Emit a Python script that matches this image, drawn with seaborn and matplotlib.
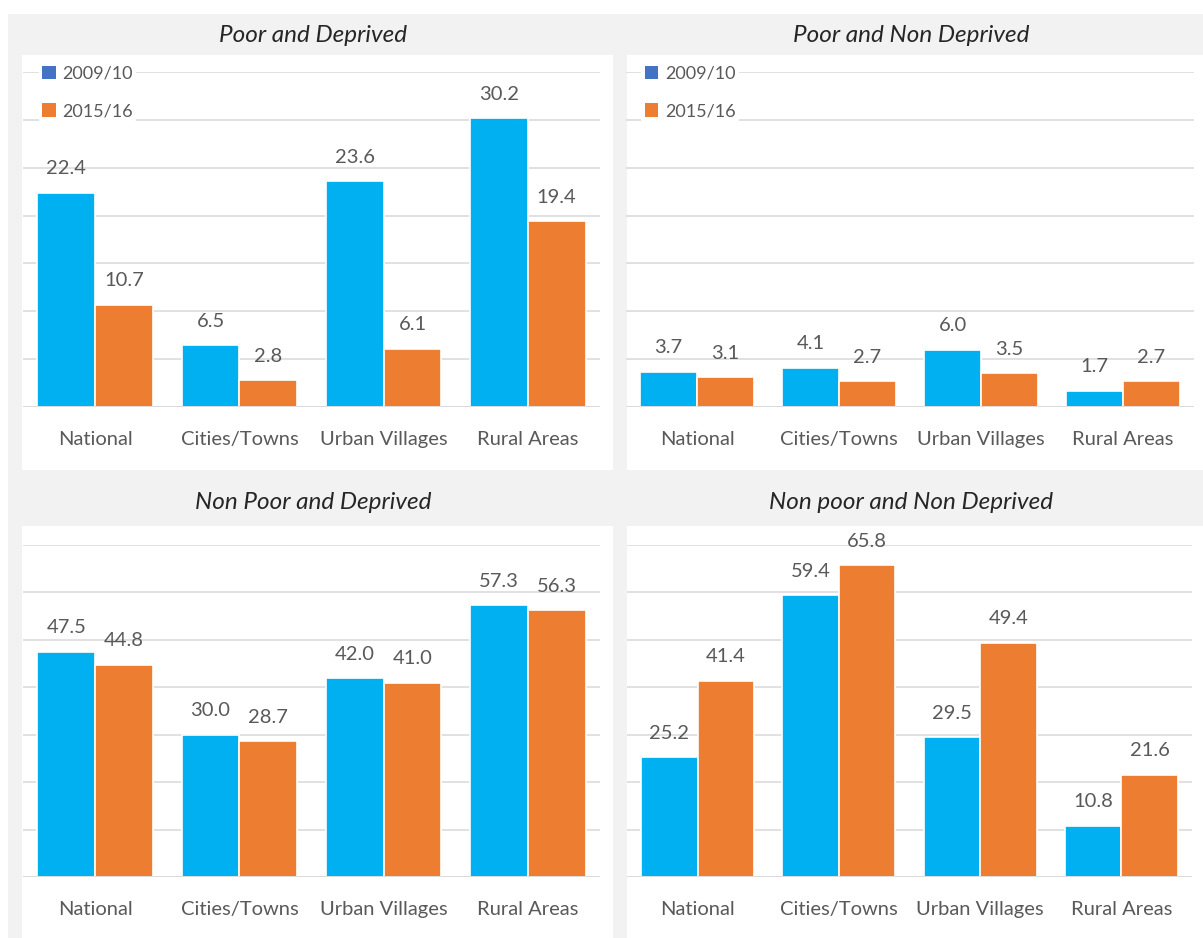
import matplotlib
matplotlib.use("Agg")
import matplotlib.pyplot as plt
from matplotlib.patches import Rectangle, Patch
import seaborn as sns
import pandas as pd

# Categories and survey rounds
areas = ["National", "Cities/Towns", "Urban Villages", "Rural Areas"]
years = ["2009/10", "2015/16"]

# Share of population (%) in each poverty / deprivation group
poor_deprived_0910 = [22.4, 6.5, 23.6, 30.2]
poor_deprived_1516 = [10.7, 2.8, 6.1, 19.4]
poor_nondeprived_0910 = [3.7, 4.1, 6.0, 1.7]
poor_nondeprived_1516 = [3.1, 2.7, 3.5, 2.7]
nonpoor_deprived_0910 = [47.5, 30.0, 42.0, 57.3]
nonpoor_deprived_1516 = [44.8, 28.7, 41.0, 56.3]
nonpoor_nondeprived_0910 = [25.2, 59.4, 29.5, 10.8]
nonpoor_nondeprived_1516 = [41.4, 65.8, 49.4, 21.6]

panel_titles = ["Poor and Deprived", "Poor and Non Deprived",
                "Non Poor and Deprived", "Non poor and Non Deprived"]
panel_series = [
    (poor_deprived_0910, poor_deprived_1516),
    (poor_nondeprived_0910, poor_nondeprived_1516),
    (nonpoor_deprived_0910, nonpoor_deprived_1516),
    (nonpoor_nondeprived_0910, nonpoor_nondeprived_1516),
]

BAR_COLORS = ["#00B0F0", "#ED7D31"]
LEGEND_COLORS = ["#4472C4", "#ED7D31"]
GRID = "#D9D9D9"
TEXT = "#595959"
FONT = ["Lato", "DejaVu Sans"]

sns.set_theme(style="white")
plt.rcParams["font.family"] = FONT

W, H = 1203, 938
fig = plt.figure(figsize=(W / 100, H / 100), dpi=100, facecolor="#F2F2F2")

def fx(x):
    return x / W

def fy(y):
    return 1 - y / H

def backdrop(x, y, w, h, color):
    fig.patches.append(Rectangle((x, y), w, h, transform=fig.transFigure,
                                 facecolor=color, edgecolor="none", zorder=-10))

# white margins at the top and left edges
backdrop(0, fy(14), 1, 14 / H, "white")
backdrop(0, 0, fx(8), 1, "white")

# white chart areas (x0, x1, y_top, y_bottom) in pixels
panels_px = [(22, 613, 55, 470), (627, 1203, 55, 470),
             (22, 613, 526, 938), (627, 1203, 526, 938)]
# plot areas (x0, x1, y_top, y_bottom) in pixels
axes_px = [(23, 600, 72, 407), (626, 1194, 72, 407),
           (23, 600, 545, 877), (627, 1192, 545, 877)]
title_y = [35, 35, 502, 502]
ymax = [35, 35, 70, 70]
ystep = [5, 5, 10, 10]

for i in range(4):
    px0, px1, pyt, pyb = panels_px[i]
    backdrop(fx(px0), fy(pyb), fx(px1 - px0), (pyb - pyt) / H, "white")
    fig.text(fx((px0 + px1) / 2 - 4), fy(title_y[i]), panel_titles[i], ha="center",
             va="center", fontsize=17.5, fontstyle="italic", color="#262626")

    ax0, ax1, ayt, ayb = axes_px[i]
    ax = fig.add_axes([fx(ax0), fy(ayb), fx(ax1 - ax0), (ayb - ayt) / H])
    ax.set_facecolor("none")

    a, b = panel_series[i]
    df = pd.DataFrame({
        "area": areas * 2,
        "year": [years[0]] * 4 + [years[1]] * 4,
        "value": list(a) + list(b),
    })
    sns.barplot(data=df, x="area", y="value", hue="year", order=areas,
                hue_order=years, palette=BAR_COLORS, saturation=1, width=0.8,
                ax=ax, edgecolor="white", linewidth=1.2, legend=False, zorder=2)

    for cont in ax.containers:
        ax.bar_label(cont, fmt="%.1f", padding=11, fontsize=14.5, color=TEXT)

    ax.set_xlim(-0.5, 3.5)
    ax.set_ylim(0, ymax[i])
    ax.set_yticks(range(0, ymax[i] + 1, ystep[i]))
    ax.yaxis.grid(True, color=GRID, linewidth=1.1, zorder=0)
    ax.set_axisbelow(True)
    ax.axhline(0, color=GRID, linewidth=1.8, zorder=3)
    ax.tick_params(axis="y", left=False, labelleft=False)
    ax.tick_params(axis="x", length=0, pad=17, labelsize=14.5, labelcolor=TEXT)
    ax.set_xlabel("")
    ax.set_ylabel("")
    for s in ax.spines.values():
        s.set_visible(False)

    if i < 2:
        handles = [Patch(facecolor=c, edgecolor="none") for c in LEGEND_COLORS]
        leg = ax.legend(handles, years, loc="upper left",
                        bbox_to_anchor=(0.027, 1.03), frameon=True,
                        fontsize=13, labelcolor=TEXT, handlelength=0.75,
                        handleheight=0.75, handletextpad=0.35,
                        labelspacing=1.2, borderpad=0.2, borderaxespad=0.0)
        leg.get_frame().set_facecolor("white")
        leg.get_frame().set_edgecolor("none")
        leg.get_frame().set_alpha(1)
        leg.set_zorder(5)

fig.savefig("out.png", dpi=100, facecolor=fig.get_facecolor())
